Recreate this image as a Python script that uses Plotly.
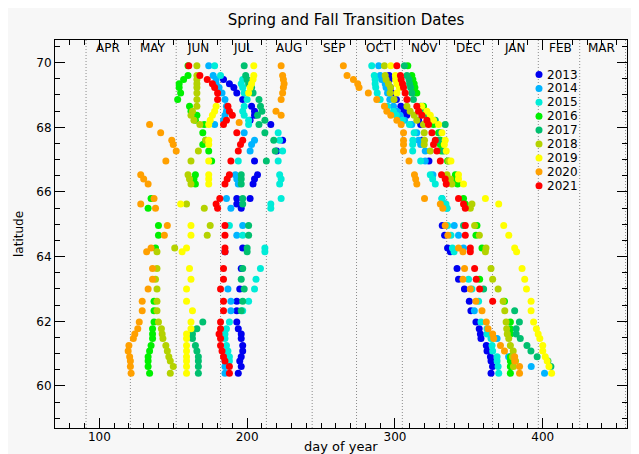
import plotly.graph_objects as go

years = [2013, 2014, 2015, 2016, 2017, 2018, 2019, 2020, 2021]
colors = ["#0000f0", "#00b4ff", "#00ecd8", "#00f000", "#00c070",
          "#b4d200", "#ffff00", "#ffa000", "#ff0000"]

month_names = ["APR", "MAY", "JUN", "JUL", "AUG", "SEP", "OCT", "NOV",
               "DEC", "JAN", "FEB", "MAR"]
month_starts = [91, 121, 152, 182, 213, 244, 274, 305, 335, 366, 397, 425, 456]

lat_rows = [69.9, 69.6, 69.48, 69.35, 69.23, 69.06, 68.86, 68.65, 68.5, 68.37,
            68.22, 68.09, 67.83, 67.6, 67.47, 67.27, 66.96, 66.53, 66.4, 66.25,
            65.8, 65.63, 65.5, 64.96, 64.66, 64.27, 64.15, 63.63, 63.3, 63.0,
            62.62, 62.33, 61.98, 61.77, 61.61, 61.47, 61.25, 61.08, 60.9, 60.77,
            60.6, 60.39]

N = None
spring_2013 = [N, N, 184, 188, 191, 193, 197, 203, 205, 205, 202, 216, N, 224, N, 220, 205, 207, 205, 204,
               202, 193, 196, N, N, 197, 185, 196, N, 195, 193, 193, 193, 194, 196, 196, 197, 197, 196, 195, 196, 194]
spring_2014 = [174, 177, 179, 179, 181, 183, 185, 186, 186, 185, 184, 178, 198, 205, 203, 202, N, 192, 193, 194,
               186, N, 189, 197, 193, N, N, N, N, 187, 189, 189, N, N, N, N, N, N, 186, 185, 185, 185]
spring_2015 = [178, 182, 197, 196, 197, 198, 200, 198, 197, 198, 201, 201, 221, 222, N, 224, 221, 222, 223, 222,
               223, 216, 216, 188, 197, 212, 212, 209, 206, 205, 201, 197, 188, 186, 185, 185, 186, 187, 188, 188, N, N]
spring_2016 = [160, 160, 157, 154, 154, 155, 153, 161, 162, 166, 165, 171, 170, 172, 170, 174, 176, 165, 164, 165,
               135, N, 133, 140, 140, 138, N, N, N, N, 137, 137, 137, 136, 136, 136, 135, 134, 133, 133, 133, 134]
spring_2017 = [198, 199, 200, 201, 203, 204, 208, 209, 210, 207, 212, 208, 212, 218, N, 219, 213, 196, 196, 196,
               197, 197, N, 201, 201, 200, 200, 197, 196, 198, 197, 196, 170, 166, 163, 163, 165, 166, 167, 167, 167, 167]
spring_2018 = [166, 166, 166, 166, 166, 166, 166, 166, 163, 162, 164, 168, N, 172, N, 167, 162, 160, 161, 162,
               N, 159, 171, 175, 173, 151, 139, 139, 138, 139, 139, 139, 140, 142, 142.5, 143, 145, 146, 147, 148, 150, 148]
spring_2019 = [204.5, 204.5, 204, 203, 202, 201, N, 179, 178, 176.5, 175, 174, N, 174, 174, N, 174, 174, 174, 174,
               N, 155, N, 162, 162, 159, 156, 161, 162, 159, 159, 163, 162, 162, 159, 159, 159, 159, 159, 159, 159, 159]
spring_2020 = [223, 224, 224.5, 225, 224.5, 224, 223, N, 219.5, 223, N, 134, 141.5, 149, 150, 152, 145, 128, 130, 133,
               137, 128, 138, 146, 144, 135, 132, 136, 136, 133, 129, 129, 127, 126, 124, 123, 120, 119.5, 120.5, 121, 121, 121.5]
spring_2021 = [160.5, 168, 173, 176.5, 178, 180, 180, 187, 188, 190, 186, 184, 193, 197, 195.5, 194, 189, 188, 186.5, 185,
               181.5, 179, 180, 185, 185, 185, 185, 184, 184, 182, 184, 184, 182, 182, 181, 182, 182, 183, 184, 185, 188, 188]

fall_2013 = [N, 296, 296.3, N, 297, 298, 301, 304, 306, 308, 316, 317.4, N, 318.2, N, N, 323, N, N, N,
             N, 334, N, 332, 333.6, 335.6, 337.5, 342, 343, 347, 350.3, 351.4, 354.8, 357, 357.8, 358.2, 361.8, 362.3, 364.6, 365, 366, 365]
fall_2014 = [289, 290, 291, 293.4, 294, 295, 296.5, 299, 301.3, 303.5, 306.5, 311.4, 314.8, 316, 317.4, 320.5, 320.5, 325.7, N, N,
             331.8, N, 335.2, 340.1, 343, 346.4, N, N, N, N, N, 353.7, N, N, N, 369.1, N, N, 376.9, N, 392.2, 401.2]
fall_2015 = [284.3, 286, 286.6, 286.6, 287, 288, 290, 295, 299, 301, 305, 309.8, 313, 312.1, 312, 312, 317.4, 323.9, 325.5, 327.3,
             331.8, 334.5, 335.2, 335.6, 337.9, 338.9, 340, N, 349.8, 352.1, 356.6, N, 358.2, 362.3, 362.3, 365, 365.7, 366.1, 369.1, 369.1, 369.8, 370.2]
fall_2016 = [308.7, 311.4, 312.1, 313, 313.5, 314.8, N, 319.3, 320.5, 321.6, 323.9, 326.1, 329.5, 330.7, 330.7, 331.3, 335.6, 340.9, 341, 342.4,
             346.4, 347.6, N, 355.5, 354.8, 358.9, N, N, 357.3, N, 374.1, N, 378.1, 378.1, 378.1, N, N, N, 378.1, 378.1, 378.1, 378.1]
fall_2017 = [306.4, 308.1, 309.5, 309.9, 310.6, 311.4, 312.5, 317.4, 320.5, 321.6, 327.3, 334, 330.7, 329.5, N, 332.9, N, N, N, N,
             N, N, N, 346.4, N, N, N, N, N, 360, N, 381, 384.2, 382, 382, 384.8, 389.3, 392, 396.2, 403.5, 405.5, N]
fall_2018 = [292.9, 293.4, 294, 295.6, 297, 296.7, 299.4, 308.1, 310.3, 313, 314.8, 319.3, 319.8, 320, 319.8, 323.9, 336.3, 335.2, 337.5, 338.5,
             N, 352.1, 351, 353.9, 357.1, 361.6, 361.2, 365, 366.1, 369.8, 373.2, 374.3, 375.2, 375.6, 376, 377, 378.1, 380, 379.5, 381.6, 380.2, N]
fall_2019 = [297.2, 300.3, 300.5, 301.3, 303, 301.3, N, 318.2, 321.6, 323.9, 326.1, 329.5, 331.8, 334, 333.4, 334.7, 337.9, 343, 343, 346.4,
             361.2, 370.2, N, 373.6, 377, 381, 382.3, 386, 387.8, 389, 392.1, 392.1, 393.8, 395.7, 396.9, 398, 400, 400, 401.7, 403, 404.2, 406]
fall_2020 = [265.1, 267.6, 271.9, 274.8, 275.7, 282, 287.7, 292.9, 294.5, 297.2, 301.3, 304.2, 305.8, 305.8, 305.8, 305.8, 309.5, 313.2, 314, 314.8,
             320, 330.7, 332.4, 334, 335.8, 343, 346, 347.1, 346, 351, 354.8, 358.9, 361.8, 363, 366.1, 366.8, 371.4, 374.1, 381, 381, 384.3, 384.3]
fall_2021 = [301.3, 303.7, 304.2, 305.1, 305.8, 306.9, 308.1, 314.8, 316, 318.2, 321.6, 322.7, 325, 327.3, 326.1, 328.4, 330.7, 331.5, 334, 334.7,
             343, 346.4, 347.6, 347.6, 347.6, 351, 351, 353.9, 355, 357.3, 366.1, N, N, N, N, N, N, N, N, N, N, N]

# additional stations sharing a latitude row
extra_year = [2020, 2013, 2015]
extra_lat = [68.15, 65.8, 66.96]
extra_day = [194.6, 193, 194]

spring = [spring_2013, spring_2014, spring_2015, spring_2016, spring_2017,
          spring_2018, spring_2019, spring_2020, spring_2021]
fall = [fall_2013, fall_2014, fall_2015, fall_2016, fall_2017,
        fall_2018, fall_2019, fall_2020, fall_2021]

FONT = "DejaVu Sans"
W, H = 639, 454
# the page body adds an 8 px offset; margins are set so the plot lands where the original has it
ML, MR, MT, MB = 47, 20, 32, 34
PW = W - ML - MR
PH = H - MT - MB

fig = go.Figure()

for i, yr in enumerate(years):
    xs, ys = [], []
    for series in (spring[i], fall[i]):
        for lat, d in zip(lat_rows, series):
            if d is not None:
                xs.append(d)
                ys.append(lat)
    for ey, el, ed in zip(extra_year, extra_lat, extra_day):
        if ey == yr:
            xs.append(ed)
            ys.append(el)
    fig.add_trace(go.Scatter(x=xs, y=ys, mode="markers", name=str(yr),
                             marker=dict(size=7, color=colors[i], line=dict(width=0)),
                             showlegend=False))

shapes = []
for m in month_starts:
    shapes.append(dict(type="line", xref="x", yref="paper", x0=m, x1=m, y0=0, y1=1,
                       line=dict(color="#8c8c8c", width=1, dash="1px,2px"), layer="below"))

annotations = []
for name, m in zip(month_names, month_starts):
    annotations.append(dict(x=m + 15, y=1 - 8 / PH, xref="x", yref="paper", text=name,
                            showarrow=False, xanchor="center", yanchor="middle",
                            font=dict(family=FONT, size=12, color="black")))

# x-axis title placed just under the tick labels
annotations.append(dict(x=0.5, y=-18.5 / PH, xref="paper", yref="paper", text="day of year",
                        showarrow=False, xanchor="center", yanchor="middle",
                        font=dict(family=FONT, size=13, color="black")))

# legend (manual, tight spacing like the original)
leg_x = (531 - ML) / PW
leg_top = 66.5
leg_dy = 13.9
for i, yr in enumerate(years):
    yy = (H - MB - (leg_top + i * leg_dy)) / PH
    shapes.append(dict(type="circle", xref="paper", yref="paper", xsizemode="pixel",
                       ysizemode="pixel", xanchor=leg_x, yanchor=yy,
                       x0=-3.5, x1=3.5, y0=-3.5, y1=3.5,
                       fillcolor=colors[i], line=dict(width=0)))
    annotations.append(dict(x=(537 - ML) / PW, y=yy, xref="paper", yref="paper", text=str(yr),
                            showarrow=False, xanchor="left", yanchor="middle",
                            font=dict(family=FONT, size=12, color="black")))

axis_common = dict(showgrid=False, zeroline=False, showline=True, linecolor="black",
                   linewidth=1, mirror="allticks", ticks="inside", ticklen=10,
                   tickcolor="black", tickwidth=1, automargin=False,
                   tickfont=dict(family=FONT, size=12, color="black"))

fig.update_layout(
    width=W, height=H,
    margin=dict(l=ML, r=MR, t=MT, b=MB, autoexpand=False),
    paper_bgcolor="#f7f7f7", plot_bgcolor="#f7f7f7",
    title=dict(text="Spring and Fall Transition Dates", x=338 / W, y=1 - 12 / H,
               xanchor="center", yanchor="middle", automargin=False,
               font=dict(family=FONT, size=15, color="black")),
    xaxis=dict(range=[70, 457], tick0=0, dtick=100, ticklabelstandoff=-2,
               minor=dict(ticks="inside", ticklen=5, tick0=0, dtick=10, tickcolor="black", showgrid=False),
               **axis_common),
    yaxis=dict(range=[58.7, 70.7], tick0=0, dtick=2,
               minor=dict(ticks="inside", ticklen=5, tick0=0, dtick=0.5, tickcolor="black", showgrid=False),
               title=dict(text="latitude", font=dict(family=FONT, size=12, color="black"), standoff=10),
               **axis_common),
    shapes=shapes,
    annotations=annotations,
)

fig.write_html("out.html")
